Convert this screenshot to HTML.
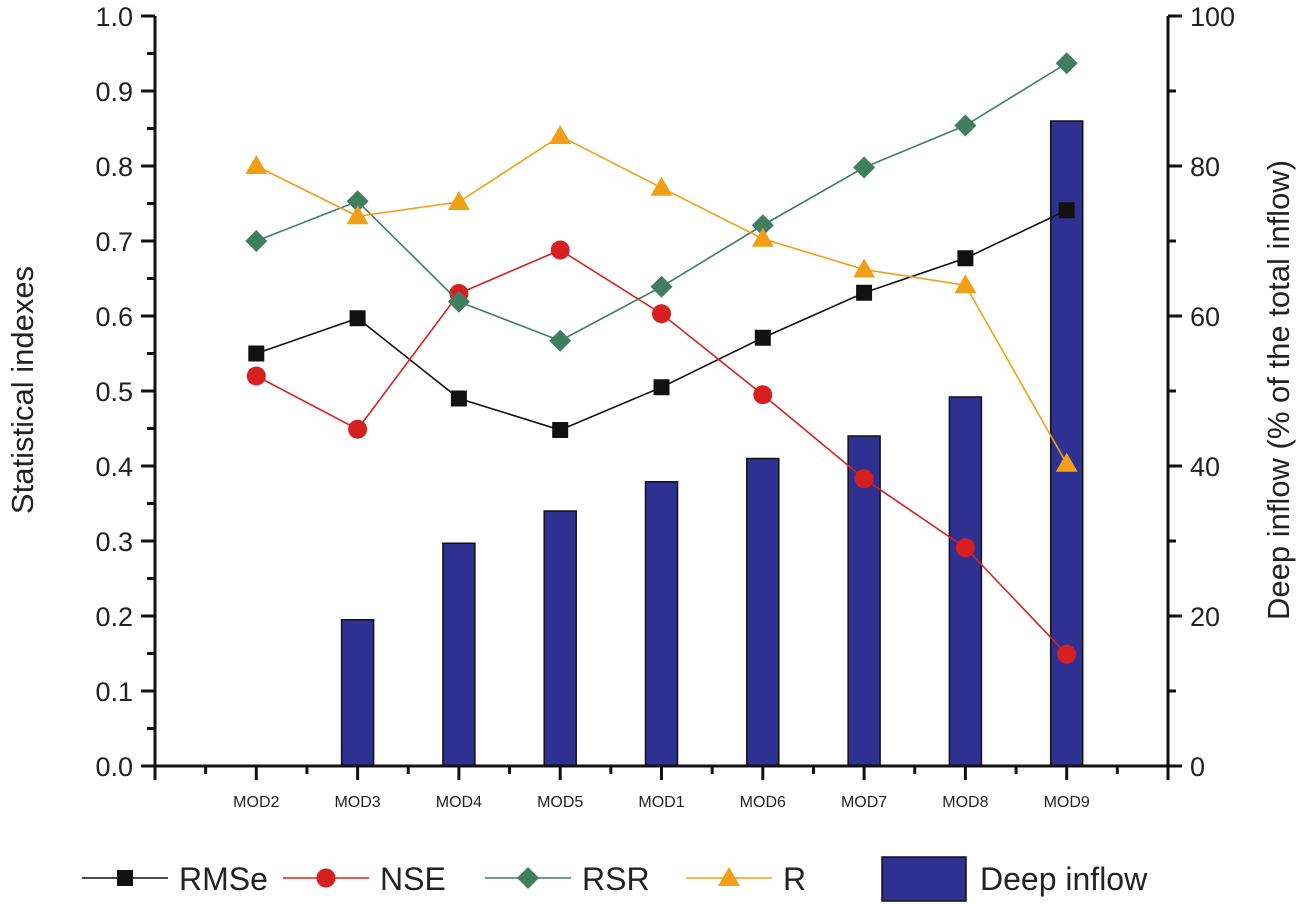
<!DOCTYPE html>
<html><head><meta charset="utf-8"><style>body{margin:0;background:#fff}svg{display:block;font-family:"Liberation Sans",Arial,sans-serif}</style></head>
<body>
<svg id="c" width="1299" height="904"></svg>
<script>
const categories=["MOD2","MOD3","MOD4","MOD5","MOD1","MOD6","MOD7","MOD8","MOD9"];
const deepInflow=[0,19.5,29.7,34,37.9,41,44,49.2,86];
const rmse=[0.55,0.597,0.49,0.448,0.505,0.571,0.631,0.677,0.741];
const nse=[0.52,0.449,0.63,0.688,0.603,0.495,0.383,0.291,0.149];
const rsr=[0.70,0.753,0.619,0.567,0.639,0.721,0.798,0.854,0.937];
const rVals=[0.80,0.733,0.752,0.84,0.771,0.703,0.662,0.641,0.403];
const leftTicks=["0.0","0.1","0.2","0.3","0.4","0.5","0.6","0.7","0.8","0.9","1.0"];
const rightTicks=["0","20","40","60","80","100"];
const NS="http://www.w3.org/2000/svg",svg=document.getElementById('c');
const X0=155,X1=1168,Y0=766,Y1=16,slot=(X1-X0)/10;
const xs=i=>X0+slot*(i+1), yl=v=>Y0-(Y0-Y1)*v, yr=v=>Y0-(Y0-Y1)*v/100;
function el(t,a,p){const e=document.createElementNS(NS,t);for(const k in a)e.setAttribute(k,a[k]);(p||svg).appendChild(e);return e;}
function mk(t,a,name){const e=el(t,a);return e;}
deepInflow.forEach((v,i)=>{if(v<=0)return;mk('rect',{x:xs(i)-16,y:yr(v),width:32,height:Y0-yr(v),fill:'#2e3192',stroke:'#111','stroke-width':1.5},'bar-'+categories[i].toLowerCase());});
mk('line',{x1:X0,y1:Y1,x2:X0,y2:Y0+2,stroke:'#111','stroke-width':3},'left-axis');
mk('line',{x1:X1,y1:Y1,x2:X1,y2:Y0+2,stroke:'#111','stroke-width':3},'right-axis');
mk('line',{x1:X0-2,y1:Y0,x2:X1+2,y2:Y0,stroke:'#111','stroke-width':3},'x-axis');
leftTicks.forEach((t,i)=>{const y=yl(+t);el('line',{x1:X0-14,y1:y,x2:X0,y2:y,stroke:'#111','stroke-width':3});
 if(i<10){const ym=yl(+t+0.05);el('line',{x1:X0-8,y1:ym,x2:X0,y2:ym,stroke:'#111','stroke-width':3});}
 const tx=mk('text',{x:X0-22,y:y+10,'text-anchor':'end','font-size':27,fill:'#222'},'left-tick-label');tx.textContent=t;});
rightTicks.forEach((t,i)=>{const y=yr(+t);el('line',{x1:X1,y1:y,x2:X1+14,y2:y,stroke:'#111','stroke-width':3});
 if(i<5){const ym=yr(+t+10);el('line',{x1:X1,y1:ym,x2:X1+8,y2:ym,stroke:'#111','stroke-width':3});}
 const tx=mk('text',{x:X1+22,y:y+10,'font-size':27,fill:'#222'},'right-tick-label');tx.textContent=t;});
for(let k=0;k<=20;k++){const x=X0+slot*k/2;el('line',{x1:x,y1:Y0,x2:x,y2:Y0+(k%2?8:14),stroke:'#111','stroke-width':3});}
categories.forEach((c,i)=>{const t=mk('text',{x:xs(i),y:807,'text-anchor':'middle','font-size':16,fill:'#222'},'x-tick-label');t.textContent=c;});
let t=mk('text',{transform:'translate(33,390) rotate(-90)','text-anchor':'middle','font-size':31,fill:'#222'},'y-axis-title');t.textContent='Statistical indexes';
t=mk('text',{transform:'translate(1289,390) rotate(-90)','text-anchor':'middle','font-size':31,fill:'#222'},'y2-axis-title');t.textContent='Deep inflow (% of the total inflow)';
function marker(type,x,y,col){
 if(type==='sq')return el('rect',{x:x-8,y:y-8,width:16,height:16,fill:col});
 if(type==='ci')return el('circle',{cx:x,cy:y,r:9.5,fill:col});
 if(type==='di')return el('polygon',{points:`${x},${y-11} ${x+11},${y} ${x},${y+11} ${x-11},${y}`,fill:col});
 return el('polygon',{points:`${x},${y-11} ${x+11},${y+8} ${x-11},${y+8}`,fill:col});}
const series=[[rmse,'#111','sq','rmse'],[nse,'#d62020','ci','nse'],[rsr,'#3f7e5e','di','rsr'],[rVals,'#f29f16','tr','r']];
series.forEach(([d,col,m,n])=>{
 mk('polyline',{points:d.map((v,i)=>xs(i)+','+yl(v)).join(' '),fill:'none',stroke:col,'stroke-width':1.6},'line-'+n);
 d.forEach((v,i)=>{const e=marker(m,xs(i),yl(v),col);});});
const leg=[['RMSe',82,'#111','sq'],['NSE',283,'#d62020','ci'],['RSR',485,'#3f7e5e','di'],['R',686,'#f29f16','tr']];
leg.forEach(([lab,x,col,m])=>{mk('line',{x1:x,y1:878,x2:x+86,y2:878,stroke:col,'stroke-width':1.6},'legend-line');
 marker(m,x+43,878,col);const tx=mk('text',{x:x+97,y:890,'font-size':32,fill:'#222'},'legend-entry');tx.textContent=lab;});
mk('rect',{x:882,y:857,width:84,height:44,fill:'#2e3192',stroke:'#111','stroke-width':1.5},'legend-bar-swatch');
t=mk('text',{x:980,y:890,'font-size':32,fill:'#222'},'legend-entry');t.textContent='Deep inflow';
</script>
</body></html>
